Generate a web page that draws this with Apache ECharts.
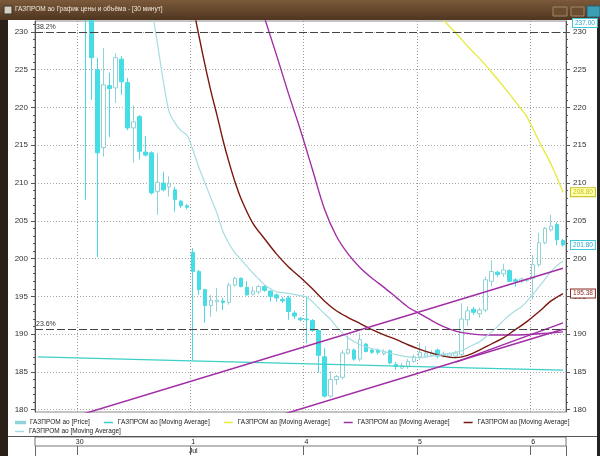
<!DOCTYPE html>
<html>
<head>
<meta charset="utf-8">
<script src="https://cdn.jsdelivr.net/npm/echarts@6/dist/echarts.min.js"></script>
<style>
html, body { margin: 0; padding: 0; background: #fff; }
#main { width: 600px; height: 456px; }
</style>
</head>
<body>
<div id="main"></div>
<script>
// trading days on the time axis (30-minute bars)
var dayNames  = ['29', '30', '1', '4', '5', '6'];
var dayMonths = ['', '', 'Jul', '', '', ''];
var dayCounts = [7, 19, 19, 19, 19, 6];

// candles: [open, close, low, high]
var candles = [
    [240.5, 241.2, 239.8, 242.0], [241.2, 240.6, 240.0, 241.8], [240.6, 239.8, 239.2, 241.0],
    [239.8, 240.4, 239.3, 240.9], [240.4, 239.5, 239.0, 240.8], [239.5, 239.0, 238.4, 239.9],
    [239.0, 238.6, 238.0, 239.4],
    [238.0, 237.2, 236.5, 238.5], [237.2, 236.0, 207.8, 238.0], [236.0, 226.6, 221.0, 237.0],
    [225.0, 214.0, 200.2, 226.6], [214.7, 223.0, 213.5, 227.9], [222.9, 222.5, 216.1, 224.6],
    [222.6, 226.6, 220.6, 227.2], [226.4, 223.4, 221.7, 226.8], [223.3, 217.3, 217.0, 223.9],
    [217.3, 218.1, 212.7, 220.3], [218.8, 214.2, 213.1, 219.0], [214.1, 213.7, 213.5, 216.2],
    [214.0, 208.7, 208.5, 214.2], [208.9, 210.1, 205.8, 214.0], [210.0, 209.1, 208.9, 211.5],
    [209.5, 209.9, 208.2, 210.9], [209.1, 207.8, 206.2, 209.5], [207.6, 207.0, 206.7, 207.8],
    [207.0, 206.8, 206.5, 207.2],
    [200.8, 198.3, 186.6, 201.4], [198.3, 195.9, 195.2, 198.5], [195.9, 193.8, 191.5, 196.0],
    [193.8, 194.5, 192.3, 195.2], [194.3, 194.5, 193.0, 196.1], [194.4, 194.2, 193.2, 194.8],
    [194.2, 196.5, 193.9, 196.8], [196.5, 197.4, 196.3, 197.6], [197.4, 196.3, 196.2, 197.5],
    [196.2, 195.2, 195.1, 197.0], [195.3, 195.7, 195.1, 196.3], [195.6, 196.3, 195.3, 196.5],
    [196.3, 195.8, 195.6, 196.5], [195.7, 195.0, 194.3, 195.8], [195.2, 194.8, 194.3, 195.4],
    [194.6, 194.4, 194.1, 194.9], [194.8, 193.0, 191.9, 195.1], [192.8, 192.4, 192.0, 193.1],
    [192.1, 191.9, 191.7, 192.3],
    [192.0, 191.9, 188.8, 195.0], [191.8, 190.5, 190.3, 192.0], [190.5, 187.2, 184.9, 190.6],
    [187.0, 181.8, 181.6, 188.2], [181.8, 184.0, 181.6, 185.1], [184.0, 184.4, 183.3, 184.6],
    [184.3, 187.5, 184.0, 187.9], [187.5, 188.0, 187.3, 189.8], [187.9, 186.7, 186.5, 188.1],
    [186.7, 189.3, 186.4, 190.2], [188.7, 187.7, 187.6, 188.8], [187.9, 187.6, 187.4, 188.1],
    [187.9, 187.6, 187.3, 188.1], [187.4, 187.7, 187.2, 188.0], [187.8, 186.2, 186.0, 188.0],
    [186.0, 185.7, 185.3, 186.3], [185.5, 185.8, 185.4, 186.2], [185.7, 186.4, 185.4, 186.7],
    [186.4, 187.0, 186.2, 187.3],
    [187.0, 187.6, 186.6, 188.9], [187.1, 187.5, 186.9, 188.4], [187.2, 187.5, 187.0, 187.9],
    [187.9, 187.1, 186.8, 188.1], [187.1, 187.4, 186.9, 187.7], [187.1, 187.4, 186.9, 187.6],
    [187.1, 187.5, 186.9, 187.8], [187.3, 192.0, 187.0, 194.1], [191.9, 193.1, 191.1, 193.7],
    [193.3, 192.9, 192.6, 193.6], [192.7, 193.2, 192.2, 193.5], [193.2, 197.2, 192.9, 197.6],
    [197.0, 198.3, 196.3, 199.8], [198.2, 197.9, 197.6, 198.4], [198.0, 198.5, 197.6, 199.3],
    [198.4, 197.0, 196.9, 198.6], [197.2, 197.0, 196.3, 197.4], [197.0, 197.3, 196.8, 197.5],
    [197.1, 197.2, 196.9, 197.4],
    [197.4, 199.2, 194.6, 200.5], [199.2, 202.1, 198.9, 203.4], [202.1, 204.0, 201.9, 204.2],
    [203.8, 204.3, 203.6, 205.8], [204.5, 202.5, 201.8, 204.8], [202.4, 201.8, 201.6, 202.6]
];

// moving averages, [bar index, value]
var maLong = [[0, 187.0], [24, 186.5], [49, 186.0], [72, 185.55], [88, 185.25]];
var maYellow = [[66, 234.5], [68, 231.6], [70, 229.9], [72, 228.1], [74, 226.5], [76, 224.7],
    [78, 222.8], [80, 220.8], [82, 218.7], [84, 215.5], [86, 212.5], [88, 208.8]];
var maPurple = [[36, 237.0], [38, 231.8], [40, 226.9], [42, 221.8], [44, 217.0], [46, 211.8],
    [48, 206.6], [50, 203.0], [52, 200.6], [54, 198.8], [56, 197.4], [58, 196.2], [60, 194.9],
    [62, 193.6], [64, 192.7], [66, 191.8], [68, 191.0], [70, 190.4], [72, 190.1], [75, 189.9],
    [80, 189.9], [84, 190.05], [88, 190.3]];
var maRed = [[25, 238.0], [26, 233.4], [27, 229.4], [28, 225.6], [29, 222.1], [30, 219.0],
    [31, 215.7], [32, 212.8], [33, 210.2], [34, 208.0], [36, 204.7], [38, 202.6], [40, 200.6],
    [42, 198.9], [44, 197.5], [46, 196.0], [48, 194.4], [50, 193.1], [52, 192.2], [54, 191.4],
    [56, 190.6], [58, 189.9], [60, 189.3], [62, 188.6], [64, 188.0], [66, 187.5], [68, 187.1],
    [70, 186.9], [72, 187.2], [74, 187.9], [76, 188.7], [78, 189.5], [80, 190.6], [82, 191.7],
    [84, 193.0], [86, 194.4], [88, 195.38]];
var maFast = [[19, 233.5], [20, 228.6], [21, 223.5], [22, 219.4], [23, 217.9], [24, 216.9],
    [25, 216.3], [26, 214.3], [27, 212.0], [28, 210.0], [29, 208.0], [30, 206.0], [31, 203.6],
    [32, 202.0], [33, 200.8], [34, 199.9], [35, 199.0], [36, 198.1], [37, 197.3], [38, 196.5],
    [39, 196.0], [40, 195.6], [42, 195.4], [44, 195.1], [45, 194.9], [46, 194.3], [47, 193.5],
    [48, 192.7], [49, 192.0], [50, 191.0], [51, 190.2], [52, 189.5], [54, 188.6], [56, 188.1],
    [58, 187.7], [60, 187.3], [62, 187.0], [64, 186.9], [66, 187.1], [68, 187.3], [70, 187.6],
    [71, 187.8], [72, 188.2], [73, 188.6], [74, 189.0], [75, 189.6], [76, 190.3], [77, 191.0],
    [78, 191.8], [79, 192.5], [80, 193.1], [81, 193.6], [82, 194.4], [83, 195.3], [84, 196.3],
    [85, 197.3], [86, 198.3], [87, 199.1], [88, 199.7]];

// trend lines drawn on the chart
var trendUpper = [[0, 177.62], [88, 198.73]];
var trendLowerA = [[40, 179.14], [88, 190.66]];
var trendLowerB = [[70, 186.3], [88, 191.5]];

// fibonacci levels
var fibLevels = [['38.2%', 230.0], ['23.6%', 190.7]];

var priceTicks = [180, 185, 190, 195, 200, 205, 210, 215, 220, 225, 230];
var priceMinor = [180, 181, 182, 183, 184, 185, 186, 187, 188, 189, 190, 191, 192, 193, 194, 195,
    196, 197, 198, 199, 200, 201, 202, 203, 204, 205, 206, 207, 208, 209, 210, 211, 212, 213,
    214, 215, 216, 217, 218, 219, 220, 221, 222, 223, 224, 225, 226, 227, 228, 229, 230, 231];
var topLabel = '237.00';

var legendNames = {
    price: 'ГАЗПРОМ ао [Price]',
    maLong: 'ГАЗПРОМ ао [Moving Average]',
    maYellow: 'ГАЗПРОМ ао [Moving Average]',
    maPurple: 'ГАЗПРОМ ао [Moving Average]',
    maRed: 'ГАЗПРОМ ао [Moving Average]',
    maFast: 'ГАЗПРОМ ао [Moving Average]'
};

var categories = [];
var monthIdx = -1;
dayNames.forEach(function (d, n) {
    for (var k = 0; k < dayCounts[n]; k++) {
        if (k === 0 && dayMonths[n]) monthIdx = categories.length;
        categories.push(d + '|' + k + '|' + dayMonths[n]);
    }
});
function isDayStart(idx) {
    return idx > 0 && categories[idx].split('|')[1] === '0';
}

var FONT = '"Liberation Sans", Arial, sans-serif';
var myChart = echarts.init(document.getElementById('main'));

function endLabel(color, bg) {
    return {
        show: true,
        distance: 8,
        formatter: function (p) { return p.value[1].toFixed(2); },
        fontSize: 6.5,
        fontFamily: FONT,
        color: color,
        backgroundColor: bg,
        borderColor: color,
        borderWidth: 1,
        padding: [1, 2, 0, 2]
    };
}

function yAx(side, ticks, len, labels, split, line) {
    return {
        type: 'value', gridIndex: 0, position: side,
        min: 179.7, max: 231.45,
        axisLine: { show: line, lineStyle: { color: '#555' } },
        axisTick: { show: true, customValues: ticks, length: len, lineStyle: { color: '#555' } },
        axisLabel: { show: labels, customValues: ticks, fontSize: 8, color: '#333', margin: 7, fontFamily: FONT },
        splitLine: { show: split, lineStyle: { color: '#aaa', type: [1, 2] } }
    };
}

var option = {
    animation: false,
    backgroundColor: '#fff',
    textStyle: { fontFamily: FONT },
    grid: [
        { left: 35, right: 34, top: 21, bottom: 44, show: true, borderColor: '#8a8a8a', borderWidth: 1 },
        { left: 35, right: 34, top: 437, height: 9, show: true, borderColor: '#777', borderWidth: 1 }
    ],
    legend: [
        {
            data: [
                { name: 'price', itemStyle: { color: '#9edfe3' } },
                'maLong', 'maYellow', 'maPurple', 'maRed'
            ],
            left: 10, top: 414, itemGap: 14, itemWidth: 9, itemHeight: 1.5, icon: 'rect',
            formatter: function (n) { return legendNames[n]; },
            textStyle: { fontSize: 6.5, color: '#222', fontFamily: FONT },
            selectedMode: false
        },
        {
            data: ['maFast'],
            left: 10, top: 423, itemWidth: 9, itemHeight: 1.5, icon: 'rect',
            formatter: function (n) { return legendNames[n]; },
            textStyle: { fontSize: 6.5, color: '#222', fontFamily: FONT },
            selectedMode: false
        }
    ],
    xAxis: [
        {
            type: 'category', gridIndex: 0, data: categories, boundaryGap: true,
            axisLine: { show: false }, axisTick: { show: false }, axisLabel: { show: false },
            splitLine: { show: true, interval: function (i) { return isDayStart(i); },
                lineStyle: { color: '#999', type: [1, 2] } }
        },
        {
            type: 'category', gridIndex: 1, data: categories, boundaryGap: true, position: 'top',
            axisLine: { show: false },
            axisTick: { show: true, inside: true, length: 9, interval: function (i) { return isDayStart(i); },
                lineStyle: { color: '#666' } },
            axisLabel: { show: true, inside: true, margin: 2, verticalAlign: 'top', align: 'center',
                interval: function (i) { return isDayStart(i); },
                formatter: function (v) { return v.split('|')[0]; }, fontSize: 7, color: '#222' }
        },
        {
            type: 'category', gridIndex: 1, data: categories, boundaryGap: true, position: 'bottom',
            axisLine: { show: false },
            axisTick: { show: true, length: 10, interval: function (i) { return i === monthIdx; },
                lineStyle: { color: '#666' } },
            axisLabel: { show: true, margin: 2, align: 'center',
                interval: function (i) { return i === monthIdx; },
                formatter: function (v) { return v.split('|')[2]; }, fontSize: 7, color: '#222' }
        }
    ],
    yAxis: [
        yAx('left', priceTicks, 4, true, true, true),
        yAx('left', priceMinor, 2, false, false, false),
        yAx('right', priceTicks, 4, true, false, true),
        yAx('right', priceMinor, 2, false, false, false),
        { type: 'value', gridIndex: 1, show: false }
    ],
    series: [
        {
            name: 'price', type: 'candlestick', data: candles, barWidth: 4, clip: true,
            itemStyle: { color: '#ffffff', color0: '#3fe0e6', borderColor: '#8fd3d8', borderColor0: '#4fd8e0', borderWidth: 1 },
            markLine: {
                silent: true, symbol: 'none',
                lineStyle: { color: '#444', width: 1, type: [8, 3] },
                label: { position: 'insideStartTop', distance: 1, formatter: '{b}', fontSize: 7, color: '#333' },
                data: fibLevels.map(function (f) { return { name: f[0], yAxis: f[1] }; })
            },
            markPoint: {
                symbol: 'rect', symbolSize: 0,
                label: {
                    show: true, position: 'right', distance: 8,
                    formatter: function (p) { return p.value.toFixed(2); },
                    fontSize: 6.5, color: '#2aa6c8', backgroundColor: '#fff',
                    borderColor: '#3fc8dc', borderWidth: 1, padding: [1, 2, 0, 2]
                },
                data: [{ coord: [candles.length - 1, candles[candles.length - 1][1]], value: candles[candles.length - 1][1] }]
            }
        },
        { name: 'maLong', type: 'line', data: maLong, showSymbol: false, clip: true,
          color: '#3ccfc8', lineStyle: { width: 1.2 } },
        { name: 'maYellow', type: 'line', data: maYellow, showSymbol: false, clip: true, smooth: 0.3,
          color: '#e8e83a', lineStyle: { width: 1.3 }, endLabel: endLabel('#c8c020', '#ffffb0') },
        { name: 'maPurple', type: 'line', data: maPurple, showSymbol: false, clip: true, smooth: 0.3,
          color: '#a22ea6', lineStyle: { width: 1.4 } },
        { name: 'maRed', type: 'line', data: maRed, showSymbol: false, clip: true, smooth: 0.3,
          color: '#7a1810', lineStyle: { width: 1.4 }, endLabel: endLabel('#8a2a20', '#fff') },
        { name: 'maFast', type: 'line', data: maFast, showSymbol: false, clip: true, smooth: 0.3,
          color: '#a6dde2', lineStyle: { width: 1.2 } },
        { name: 'trendUpper', type: 'line', data: trendUpper, showSymbol: false, clip: true, silent: true,
          color: '#a22ea6', lineStyle: { width: 1.5 } },
        { name: 'trendLowerA', type: 'line', data: trendLowerA, showSymbol: false, clip: true, silent: true,
          color: '#a22ea6', lineStyle: { width: 1.5 } },
        { name: 'trendLowerB', type: 'line', data: trendLowerB, showSymbol: false, clip: true, silent: true,
          color: '#a22ea6', lineStyle: { width: 1.5 } }
    ],
    graphic: [
        // window frame
        { type: 'rect', z: 100, shape: { x: 0, y: 0, width: 600, height: 20 },
          style: { fill: new echarts.graphic.LinearGradient(0, 0, 0, 1, [
              { offset: 0, color: '#7b5a3a' }, { offset: 1, color: '#4f3520' }]) } },
        { type: 'rect', z: 101, shape: { x: 4, y: 6, width: 8, height: 8 },
          style: { fill: '#d8d0c0', stroke: '#333' } },
        { type: 'text', z: 101, left: 15, top: 6,
          style: { text: 'ГАЗПРОМ ао График цены и объёма - [30 минут]', fill: '#efe8dc', fontSize: 6.5, fontFamily: FONT } },
        { type: 'rect', z: 101, shape: { x: 553, y: 7, width: 14, height: 9 },
          style: { fill: '#6b4d30', stroke: '#a08868' } },
        { type: 'rect', z: 101, shape: { x: 571, y: 7, width: 13, height: 9 },
          style: { fill: '#6b4d30', stroke: '#a08868' } },
        { type: 'rect', z: 101, shape: { x: 587, y: 6, width: 13, height: 11 },
          style: { fill: '#3a9fb4', stroke: '#2a6070' } },
        { type: 'rect', z: 100, shape: { x: 0, y: 20, width: 8, height: 436 },
          style: { fill: '#2b2018' } },
        { type: 'rect', z: 100, shape: { x: 597, y: 20, width: 3, height: 436 },
          style: { fill: '#222' } },
        { type: 'line', z: 100, shape: { x1: 8, y1: 436.5, x2: 597, y2: 436.5 },
          style: { stroke: '#555', lineWidth: 1 } },
        { type: 'text', z: 102, left: 572, top: 18,
          style: { text: topLabel, fill: '#2aa6c8', fontSize: 6.5, fontFamily: FONT,
                   backgroundColor: '#fff', borderColor: '#3fc8dc', borderWidth: 1, padding: [1, 2, 0, 2] } }
    ]
};

myChart.setOption(option, true);
</script>
</body>
</html>
